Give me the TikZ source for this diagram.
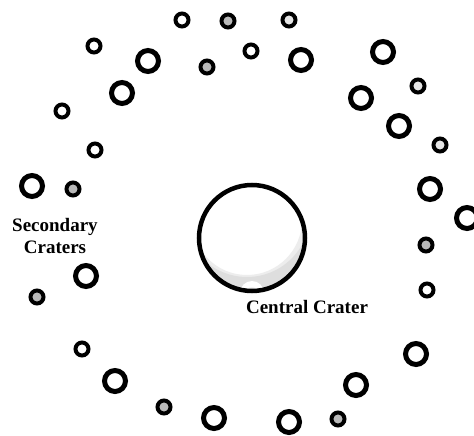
\documentclass[tikz,border=0pt]{standalone}
\usepackage{fontspec}
\setmainfont{Liberation Serif}
\tikzset{
  bigc/.style={circle, draw=black, line width=5pt, minimum size=21pt, inner sep=0pt, fill=white},
  smallc/.style={circle, draw=black, line width=4pt, minimum size=13pt, inner sep=0pt, fill=white},
  shadedc/.style={smallc, fill=gray!55},
  lightc/.style={smallc, fill=gray!20},
  lbl/.style={font=\bfseries\fontsize{19}{22}\selectfont, inner sep=0pt},
  centralc/.style={circle, draw=black, line width=4.5pt, minimum size=106pt, inner sep=0pt}
}
\begin{document}
\begin{tikzpicture}[x=1pt,y=-1pt]
\fill[white] (0,0) rectangle (474,436);
\useasboundingbox (0,0) rectangle (474,436);
\clip (0,0) rectangle (474,436);
% central crater shading (soft grey patches at the bottom)
\begin{scope}
  \clip (252,238) circle (52pt);
  \fill[gray!14, even odd rule] (252,238) circle (53pt) (247,220) circle (55pt);
  \fill[gray!26, even odd rule] (252,238) circle (53pt) (247,214) circle (63pt);
  \fill[white] (252,293) circle (12pt);
  \fill[gray!10] (252,293) circle (6pt);
\end{scope}
\node[centralc] (central) at (252,238) {};
% large secondary craters
\node[bigc] (L1) at (148,61) {};
\node[bigc] (L2) at (122,93) {};
\node[bigc] (L3) at (301,60) {};
\node[bigc] (L4) at (383,52) {};
\node[bigc] (L5) at (361,98) {};
\node[bigc] (L6) at (399,126) {};
\node[bigc] (L7) at (430,189) {};
\node[bigc] (L8) at (467,218) {};
\node[bigc] (L9) at (32,186) {};
\node[bigc] (L10) at (86,276) {};
\node[bigc] (L11) at (115,381) {};
\node[bigc] (L12) at (214,418) {};
\node[bigc] (L13) at (289,422) {};
\node[bigc] (L14) at (356,385) {};
\node[bigc] (L15) at (416,354) {};
% small secondary craters
\node[smallc] (S1) at (182,20) {};
\node[shadedc] (S2) at (228,21) {};
\node[lightc] (S3) at (289,20) {};
\node[smallc] (S4) at (94,46) {};
\node[shadedc] (S5) at (207,67) {};
\node[smallc] (S6) at (251,51) {};
\node[smallc] (S7) at (62,111) {};
\node[smallc] (S8) at (95,150) {};
\node[shadedc] (S9) at (73,189) {};
\node[lightc] (S10) at (418,86) {};
\node[lightc] (S11) at (440,145) {};
\node[shadedc] (S12) at (37,297) {};
\node[smallc] (S13) at (82,349) {};
\node[shadedc] (S14) at (164,407) {};
\node[shadedc] (S15) at (426,245) {};
\node[smallc] (S16) at (427,290) {};
\node[shadedc] (S17) at (338,419) {};
% labels
\node[lbl, align=center, anchor=base] (seclbl) at (55,253) {Secondary\\Craters};
\node[lbl, anchor=base] (centlbl) at (307,313) {Central Crater};
\end{tikzpicture}
\end{document}
